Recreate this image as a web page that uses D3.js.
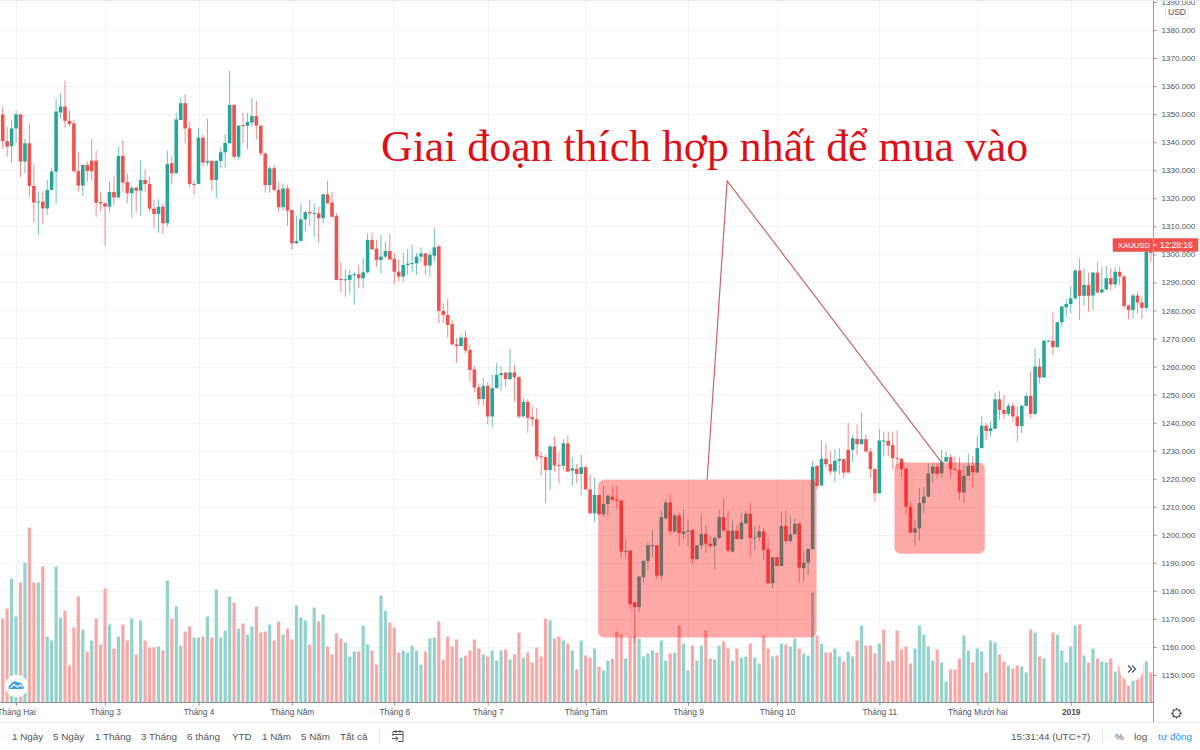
<!DOCTYPE html>
<html><head><meta charset="utf-8">
<style>html,body{margin:0;padding:0;background:#fff;overflow:hidden}svg{display:block}text{font-family:"Liberation Sans",Arial,sans-serif}</style>
<script src="https://d3js.org/d3.v7.min.js"></script></head><body>
<svg id="c" width="1200" height="750"></svg>
<script>
const open=[1349.9,1340.4,1338.6,1344.9,1349.9,1333.1,1339.6,1324.4,1318.6,1318.8,
1316.4,1323,1329.5,1350.6,1352.7,1347.6,1346.7,1329.7,1324.5,1331.9,
1333.4,1333.4,1318.7,1318.2,1317,1322.2,1320.3,1335.1,1325.8,1321.8,
1323.7,1322.7,1326.5,1325.1,1316.3,1314.4,1317,1311.1,1332.5,1328.9,
1347.9,1353.9,1344.9,1325.1,1325.1,1341.6,1332.7,1333.3,1326.5,1333.3,
1336.4,1339.6,1353.3,1334.8,1346.1,1345.8,1347,1349.3,1345.9,1336,
1324.7,1330.7,1323,1316.8,1323.5,1315.8,1303.9,1304.8,1312.5,1315.1,
1314.5,1314.6,1312.9,1321.4,1318.5,1313.7,1291.2,1290.9,1290.9,1292.6,
1292.9,1291.5,1293.6,1305.1,1302,1298,1299.2,1301.2,1298.4,1293.8,
1292.1,1296.2,1296.7,1296.8,1299.2,1300.4,1296,1299.5,1302.8,1279.8,
1278.4,1275.1,1267.9,1267.3,1270.3,1265.9,1259,1252.6,1248.4,1253.1,
1242.2,1252.3,1256.9,1257.8,1255.5,1257.9,1256.2,1242.2,1247.4,1241.9,
1241.2,1228,1227.7,1223.1,1231.5,1224.9,1224.6,1232.6,1222.9,1223.5,
1221.7,1224.1,1216.2,1207.7,1214.2,1207.3,1211,1213.6,1212.7,1212.2,
1194,1194.4,1175.9,1174.2,1184.9,1190.7,1196,1196.2,1185.4,1205.9,
1211.5,1201.2,1206.9,1200.3,1201.3,1201.8,1191.3,1196.2,1200.3,1196.8,
1196,1198.8,1206.3,1201.5,1194,1201.5,1198.5,1204.1,1207.5,1198.9,
1199.1,1201.2,1194.9,1182.7,1192,1188.9,1203.2,1197.8,1200.2,1204.1,
1188.1,1190.1,1194.9,1224.6,1217.6,1227.1,1225.2,1222.6,1226.4,1227,
1230.3,1230.3,1234.2,1232.3,1234.1,1229.7,1223.4,1214.8,1233.4,1233.5,
1232,1227.3,1227.1,1223.6,1210,1200.8,1202.3,1211.3,1213.6,1221.9,
1224.3,1221.9,1226.1,1227.7,1223.4,1223.1,1215.1,1221,1224.6,1222.2,
1230.9,1238.9,1237,1237.8,1248.3,1244.5,1243.1,1246,1242.2,1238.8,
1246,1249.5,1243.1,1260,1256.1,1269,1269.2,1266.9,1275.8,1281.1,
1282.3,1284.3,1294.2,1285.2,1289.1,1285.3,1293.5,1286.4,1287.5,1291.5,
1289.3,1293.8,1292.1,1281.8,1280.2,1285.3,1282.8,1280.9,1300.9];
const close=[1340.4,1338.4,1344.9,1349.9,1333.1,1339.6,1324.4,1318.5,1318.8,1316.4,
1323,1329.5,1350.9,1352.7,1347.6,1346.5,1329.7,1324.5,1331.9,1329.7,
1329.7,1318.4,1318.2,1317,1322.2,1320.3,1335.1,1325.6,1321.8,1323.7,
1322.7,1326.5,1325.1,1316.3,1314.4,1317,1311.1,1332.2,1328.9,1348.1,
1353.9,1344.9,1325.1,1324.9,1341.6,1332.7,1333.3,1326.5,1333.3,1336.4,
1339.7,1353.3,1334.8,1345.9,1345.8,1347.2,1349.3,1345.9,1336,1324.7,
1330.7,1323,1316.8,1323.5,1315.6,1303.9,1304.8,1312.5,1315,1314.6,
1314.8,1312.9,1321.4,1318.2,1313.4,1290.9,1290.9,1291.1,1292.6,1292.9,
1291.5,1293.6,1305.1,1301.8,1298,1299.2,1301.2,1298.2,1293.8,1292.1,
1296.2,1296.7,1296.9,1299.2,1300.3,1296,1299.8,1302.5,1279.8,1278.4,
1274.8,1267.9,1267.3,1270.3,1265.7,1258.8,1252.5,1248.4,1253.1,1242.2,
1252.3,1257,1257.6,1255.5,1257.9,1256.2,1242.2,1247.4,1241.7,1241.2,
1227.9,1227.7,1223.1,1231.5,1224.7,1224.6,1232.6,1222.5,1223.7,1221.7,
1224.1,1216.2,1207.7,1214.2,1207.3,1211,1213.9,1212.5,1212.2,1194,
1194.3,1175.3,1174.2,1185.1,1190.7,1196.3,1196.3,1185.4,1206.3,1211.5,
1201.2,1206.9,1200.6,1201.2,1201.5,1191.3,1196.2,1200.3,1196.8,1196,
1198.8,1206.3,1201.5,1194.4,1201.5,1198.5,1204.4,1207.5,1198.8,1199.1,
1201.2,1194.6,1182.7,1192,1188.9,1203.2,1197.8,1200.2,1203.9,1188.3,
1190.1,1194.9,1224.3,1217.4,1227.1,1225.2,1222.6,1226.4,1227,1222.2,
1222.2,1234.4,1232.3,1234.1,1229.7,1223.4,1214.8,1233.6,1233.6,1231.8,
1227.3,1227.1,1223.4,1210,1200.8,1202.3,1211.3,1213.6,1221.9,1224.3,
1221.7,1226.1,1227.7,1223.4,1223.1,1215.1,1221,1224.6,1222.3,1230.9,
1238.9,1237,1238,1248.3,1244.5,1243.1,1246,1242.2,1238.8,1246,
1249.5,1243.1,1260,1256.1,1269.2,1269.2,1266.9,1275.8,1281.4,1282.3,
1284.3,1294.2,1285.2,1289.1,1285.2,1293.5,1286.4,1287.5,1291.5,1289.3,
1293.8,1292.1,1281.6,1280.2,1285.3,1282.8,1280.9,1301,1300.6];
const high=[1352.7,1345.5,1347.9,1351.2,1350,1341.4,1346.5,1332.2,1322.4,1322.7,
1326.5,1330.7,1355.6,1357.4,1361.9,1351.5,1348.1,1336.5,1332,1333,
1341,1337,1322.4,1318.5,1325.8,1328,1338.4,1340.8,1328.9,1324.4,
1324.4,1333.4,1330.3,1327.7,1319.4,1319.6,1318.2,1337,1335.1,1350.5,
1356,1357.2,1347.3,1326.5,1344.9,1342.6,1348.4,1333.6,1333.6,1338.2,
1342.9,1365.5,1353.5,1346,1350.5,1350.3,1355.9,1354.8,1346,1336.1,
1331.5,1331.9,1325.9,1325.3,1324.7,1316,1313.7,1318.2,1315.8,1319.4,
1318.2,1317,1321.5,1326.2,1322.4,1314.6,1297.4,1294.7,1294.4,1293.8,
1296.2,1298.6,1307.5,1307.7,1305.1,1306.9,1304.5,1307.3,1300.6,1298.2,
1300.6,1301.8,1303.4,1300.6,1302.5,1300.5,1301,1309.3,1303.4,1282.5,
1284.1,1276.6,1270.1,1271.3,1272.7,1267.7,1260.3,1254,1255.8,1254.3,
1257.2,1261.2,1260,1258.2,1266.2,1260.6,1256.4,1248.7,1248.4,1245.7,
1245.1,1229.7,1228.5,1232.1,1235.3,1229.7,1234.1,1235.4,1227.6,1225.2,
1228.7,1224.9,1221.4,1220.2,1214.3,1217.4,1214.2,1217.4,1217.4,1212.3,
1198.8,1194.6,1176,1185.2,1190.8,1197.2,1201.8,1196.3,1208.9,1212.7,
1214.6,1207.7,1207.9,1209.1,1205.1,1201.9,1196.4,1207.3,1203.5,1199.4,
1199.6,1208.9,1213,1208.6,1205.1,1203.5,1207.7,1208.6,1211.5,1203.2,
1203.5,1202.4,1198.8,1192.1,1192.1,1208.3,1208.6,1206.9,1205.9,1204.2,
1194.4,1195.2,1226.5,1224.7,1233.5,1232.7,1229.9,1230.5,1230.9,1227.1,
1239.8,1235.6,1239.2,1243.6,1235.6,1230.9,1223.7,1237.6,1236.8,1236.8,
1236.8,1237.4,1227.3,1223.7,1211.8,1205.3,1216.6,1217,1225.5,1225.5,
1225.5,1230.3,1229.7,1228.8,1227.9,1227.7,1224.6,1229.1,1228.1,1235.3,
1242.2,1239.8,1240.4,1250.5,1251.3,1249.9,1246.9,1247.1,1245.7,1246.3,
1250.5,1258.2,1266.5,1262.9,1269.5,1269.6,1279.3,1276,1281.6,1284,
1288.7,1295,1298.6,1295,1293.5,1293.8,1297.2,1295.6,1295.9,1295,
1295.3,1295.6,1292.7,1282,1285.9,1286.7,1284.9,1301.1,1301];
const low=[1337.8,1334.8,1332.7,1339.6,1327.5,1328.9,1320.3,1311.3,1306.9,1310.8,
1314,1322.7,1318,1348.5,1344.9,1345.5,1328.9,1322.4,1320.8,1325.9,
1326.5,1313.4,1315.2,1303,1315.2,1317.6,1320,1322.4,1318.2,1312.9,
1315.2,1313.7,1322.4,1315.2,1309.5,1307.7,1307.3,1309.9,1325,1328.9,
1347.9,1339.8,1323.9,1321.2,1325,1331.3,1331.5,1322.7,1320,1330.7,
1331,1339.6,1333.9,1333.7,1339.8,1337.5,1345.5,1341,1335.1,1322,
1322,1322.4,1315.2,1315.6,1310.2,1301.6,1303.8,1304.7,1308.1,1310.2,
1306.1,1304.2,1311.1,1318,1313.4,1290.9,1286.4,1284.9,1286.1,1282,
1287.9,1287.9,1293.2,1301.6,1295.6,1293.2,1298.6,1298,1289.4,1290.3,
1290,1292.7,1293.8,1292.7,1297.4,1292.7,1292.1,1297.4,1275.4,1275.4,
1270.3,1267.7,1261.2,1267.1,1264.7,1254.6,1250.8,1246.3,1246,1239.5,
1238.3,1252.2,1251.4,1252.8,1255.2,1247.5,1241.6,1241.9,1236.4,1238.6,
1226.5,1221.1,1211.5,1216,1222.5,1218.4,1223.1,1222.4,1217.5,1218.4,
1214.2,1216,1207.1,1204.7,1207.1,1206.5,1206.7,1212.2,1209.5,1191.7,
1191.7,1173.5,1161.3,1172.3,1183,1187.5,1192.2,1184.3,1183.7,1205.1,
1200,1200.8,1196,1198.4,1195.8,1189.6,1191,1194.9,1193.4,1195.2,
1187.7,1198.4,1201.2,1193.7,1193.7,1198.2,1198.2,1203.5,1192.2,1194.6,
1197.6,1191,1182.7,1181,1188.7,1188.7,1196.8,1197,1200,1183,
1183.3,1185.7,1194.6,1216.3,1217.4,1223.7,1221.4,1218.7,1221.4,1220.2,
1222,1225.8,1228.5,1232.2,1229.3,1220.2,1211.8,1214.7,1227.9,1227.9,
1223.4,1223.7,1220.5,1207.1,1200.6,1196.4,1197.9,1207.9,1213.5,1218.4,
1220.2,1220.2,1226,1220.5,1222.9,1212.4,1211.3,1220.8,1217,1222,
1230.8,1233.6,1235,1237.7,1241,1241.2,1242.4,1240.4,1233.2,1236.2,
1245.7,1241.6,1242.7,1254,1256,1268.9,1264.1,1266.8,1274.2,1277.6,
1279,1284.2,1276.6,1281.6,1279.6,1280.2,1286.1,1286.1,1287.3,1287.3,
1287.9,1289.1,1280.8,1276.8,1277.2,1279,1276.8,1279.9,1297.4];
const volume=[84,94,124,86,120,140,175,120,120,136,
66,62,136,85,92,37,75,106,73,51,
62,84,58,114,78,54,66,78,62,84,
48,82,62,55,55,56,52,122,84,96,
57,71,76,65,65,66,86,65,113,65,
72,106,100,74,79,68,76,96,70,71,
78,62,81,68,74,63,97,85,82,58,
95,81,88,56,48,69,64,60,46,51,
51,77,58,52,38,107,92,80,75,50,
52,50,57,52,38,51,64,65,81,43,
66,56,63,45,47,52,63,54,48,46,
52,42,52,53,43,48,70,45,50,40,
55,46,84,82,64,66,62,59,52,33,
62,47,45,54,36,32,42,44,71,68,
44,66,66,64,46,49,52,50,62,42,
49,50,77,59,32,57,42,57,72,44,
43,57,61,54,42,54,45,46,59,45,
39,67,54,46,47,59,58,56,64,54,
49,47,110,67,59,50,50,54,46,41,
51,46,62,77,57,57,49,59,73,41,
42,72,53,56,39,54,77,68,56,42,
53,40,21,33,33,44,67,52,40,54,
51,30,62,60,48,41,37,34,37,36,
30,73,70,46,44,1,70,68,52,40,
56,77,78,47,40,54,44,41,40,44,
31,36,35,17,24,26,38,41,30];
const volumeDir=["dduududdud","uuuuddddud","udddududdu","dudddududu","udduududuu",
"uududuuddd","uddudduuud","ududddduuu","duudduuddd","uuuuuduudd",
"ddduddddud","uuududdudd","ddduddudud","udduduuddd","udduuuuduu",
"duduuduudd","uudduduudu","uddududuud","uuududduud","uududddudd",
"ddddduuuuu","duuddduudu","uduudduddu","ududuuduuu","uudududuud","uddduddud"].join("");
const monthIdx=[3,23,44,65,88,109,131,154,174,197,219,240];
const monthLabels=["Tháng Hai","Tháng 3","Tháng 4","Tháng Năm","Tháng 6","Tháng 7","Tháng Tám","Tháng 9","Tháng 10","Tháng 11","Tháng Mười hai","2019"];
const priceTicks=d3.range(1150,1391,10);
const title="Giai đoạn thích hợp nhất để mua vào";
const rangeButtons=["1 Ngày","5 Ngày","1 Tháng","3 Tháng","6 tháng","YTD","1 Năm","5 Năm","Tất cả"];
const rangeButtonX=[12,53,95,141,187,232,262,301,340];
// annotations in data units [index, price]
const zoneA=[133.8,182.9,1219.6,1163.4];
const zoneB=[200.4,220.7,1225.8,1193.2];
const pointerLine=[[158.3,1219.6],[162.8,1326.2],[210.9,1226]];

const W=1200,H=750,axisX=1153,baseY=702.5,footY=722.5;
const svg=d3.select("#c");
const x=d3.scaleLinear().domain([0,258]).range([2.7,2.7+4.45*258]);
const y=d3.scaleLinear().domain([1380,1150]).range([30,675]);
const v=d3.scaleLinear().domain([0,175]).range([baseY,baseY-175]);
const TEAL="#26a69a",RED="#ef5350";
const n=open.length;
const idx=d3.range(n);

// grid
const grid=svg.append("g").attr("stroke","#f1f3f7").attr("stroke-width",1);
grid.selectAll(".h").data(priceTicks).join("line").attr("x1",0).attr("x2",axisX)
 .attr("y1",d=>Math.round(y(d))+.5).attr("y2",d=>Math.round(y(d))+.5);
grid.selectAll(".v").data(monthIdx).join("line").attr("y1",0).attr("y2",baseY)
 .attr("x1",d=>Math.round(x(d))+.5).attr("x2",d=>Math.round(x(d))+.5);

// volume
svg.append("g").selectAll("rect").data(idx).join("rect")
 .attr("x",i=>x(i)-1.6).attr("width",3.2)
 .attr("y",i=>v(volume[i])).attr("height",i=>baseY-v(volume[i]))
 .attr("fill",i=>volumeDir[i]==="u"?"#93d3cd":"#f7a9a7");

// candles
const candles=svg.append("g");
candles.selectAll("line").data(idx).join("line")
 .attr("x1",i=>x(i)).attr("x2",i=>x(i)).attr("y1",i=>y(high[i])).attr("y2",i=>y(low[i]))
 .attr("stroke",i=>close[i]>=open[i]?TEAL:RED).attr("stroke-width",.8).attr("stroke-opacity",.85);
candles.selectAll("rect").data(idx).join("rect")
 .attr("x",i=>x(i)-1.8).attr("width",3.6)
 .attr("y",i=>y(Math.max(open[i],close[i])))
 .attr("height",i=>Math.max(1,Math.abs(y(open[i])-y(close[i]))))
 .attr("fill",i=>close[i]>=open[i]?TEAL:RED);

// annotations
svg.append("g").selectAll("rect").data([zoneA,zoneB]).join("rect")
 .attr("x",d=>x(d[0])).attr("width",d=>x(d[1])-x(d[0]))
 .attr("y",d=>y(d[2])).attr("height",d=>y(d[3])-y(d[2]))
 .attr("rx",6).attr("fill","#ff0000").attr("fill-opacity",.34);
svg.append("path").attr("d",d3.line().x(d=>x(d[0])).y(d=>y(d[1]))(pointerLine))
 .attr("fill","none").attr("stroke","#d0626a").attr("stroke-width",1.2);
svg.append("text").attr("x",381).attr("y",161).text(title)
 .style("font-family",'"Liberation Serif","Times New Roman",serif').style("font-size","43.8px").attr("fill","#dd1018");

// axes
const axisColor="#50535e";
const gx=svg.append("g").attr("transform",`translate(0,${baseY})`)
 .call(d3.axisBottom(x).tickValues(monthIdx).tickFormat((d,i)=>monthLabels[i]).tickSize(3).tickPadding(4));
gx.select(".domain").remove();
gx.selectAll("text").style("font-size","8.4px").attr("fill",axisColor).style("font-weight",(d,i)=>monthLabels[i]==="2019"?"bold":null);
gx.selectAll("line").attr("stroke","#8d9098");
svg.append("line").attr("x1",0).attr("x2",axisX).attr("y1",baseY).attr("y2",baseY).attr("stroke","#8d9098");
const gy=svg.append("g").attr("transform",`translate(${axisX+.5},0)`)
 .call(d3.axisRight(y).tickValues(priceTicks).tickFormat(d3.format(".3f")).tickSize(3).tickPadding(5));
gy.select(".domain").remove();
gy.selectAll("text").style("font-size","8.1px").attr("fill",axisColor);
gy.selectAll("line").attr("stroke","#8d9098");
svg.append("line").attr("x1",axisX+.5).attr("x2",axisX+.5).attr("y1",0).attr("y2",footY).attr("stroke","#9a9ca3");
svg.append("line").attr("x1",0).attr("x2",W).attr("y1",footY).attr("y2",footY).attr("stroke","#e3e6ec");
svg.append("line").attr("x1",0).attr("x2",W).attr("y1",.5).attr("y2",.5).attr("stroke","#e8eaee");

// USD box
svg.append("rect").attr("x",1165.5).attr("y",6).attr("width",23).attr("height",12).attr("rx",2).attr("fill","#fff").attr("stroke","#e6e8ed");
svg.append("text").attr("x",1177).attr("y",15).attr("text-anchor","middle").style("font-size","8.6px").attr("fill",axisColor).text("USD");

// last-price tag
svg.append("rect").attr("x",1112.7).attr("y",238.3).attr("width",85.6).attr("height",13.4).attr("rx",1).attr("fill",RED);
svg.append("text").attr("x",1118).attr("y",248).style("font-size","7.7px").attr("fill","#fff").text("XAUUSD");
svg.append("text").attr("x",1160).attr("y",248).style("font-size","8.4px").attr("fill","#fff").text("12:28:16");
svg.append("line").attr("x1",axisX+.5).attr("x2",axisX+.5).attr("y1",238.3).attr("y2",251.7).attr("stroke","#fff").attr("stroke-opacity",.35);
svg.append("line").attr("x1",axisX+.5).attr("x2",axisX+3.5).attr("y1",245).attr("y2",245).attr("stroke","#fff");

// logo badge
svg.append("circle").attr("cx",16.5).attr("cy",686).attr("r",11.3).attr("fill","#fff");
svg.append("path").attr("d","M9 689 C8 686 9.5 684.5 11 684.5 C12 681.5 15 680 17.5 682.5 C19.5 681.5 22 683 22 685 C24 685.5 24.5 688 23 689 Z").attr("fill","#3f9fe6");
svg.append("path").attr("d","M10.5 687.5 L14 684.5 L17.5 687 L20 685 L22.5 687").attr("fill","none").attr("stroke","#fff").attr("stroke-width",1.1);

// scroll button
svg.append("circle").attr("cx",1131.5).attr("cy",669).attr("r",12).attr("fill","#fff").attr("fill-opacity",.92);
svg.append("path").attr("d","M1128 665.5 L1131.5 669 L1128 672.5 M1132 665.5 L1135.5 669 L1132 672.5").attr("fill","none").attr("stroke","#50535e").attr("stroke-width",1.3);

// gear
const gear=svg.append("g").attr("transform","translate(1176.5,713.3)").attr("stroke","#50535e").attr("fill","none");
gear.append("circle").attr("r",3.8).attr("stroke-width",1.2);
gear.selectAll("line").data(d3.range(8)).join("line")
 .attr("x1",d=>3.6*Math.cos(d*Math.PI/4)).attr("y1",d=>3.6*Math.sin(d*Math.PI/4))
 .attr("x2",d=>5.4*Math.cos(d*Math.PI/4)).attr("y2",d=>5.4*Math.sin(d*Math.PI/4)).attr("stroke-width",1.2);

// toolbar
const tbY=739.5;
svg.append("g").selectAll("text").data(rangeButtons).join("text")
 .attr("x",(d,i)=>rangeButtonX[i]).attr("y",tbY).style("font-size","9.9px").attr("fill","#50535e").text(d=>d);
svg.append("line").attr("x1",379.5).attr("x2",379.5).attr("y1",728).attr("y2",744).attr("stroke","#e3e6ec");
svg.append("path").attr("d","M393 736 V731.5 H403 V741.5 H398 M393 734.5 H403 M396 730 V733 M400 730 V733 M392 738.5 H398 M395.5 736 L398 738.5 L395.5 741")
 .attr("fill","none").attr("stroke","#50535e").attr("stroke-width",1);
svg.append("text").attr("x",1011).attr("y",tbY).style("font-size","9.9px").attr("fill","#50535e").text("15:31:44 (UTC+7)");
svg.append("line").attr("x1",1102.5).attr("x2",1102.5).attr("y1",728).attr("y2",744).attr("stroke","#e3e6ec");
svg.append("text").attr("x",1115).attr("y",tbY).style("font-size","9.9px").attr("fill","#50535e").text("%");
svg.append("text").attr("x",1134).attr("y",tbY).style("font-size","9.9px").attr("fill","#50535e").text("log");
svg.append("text").attr("x",1158).attr("y",tbY).style("font-size","9.9px").attr("fill","#2196f3").text("tự động");
</script>
</body></html>
